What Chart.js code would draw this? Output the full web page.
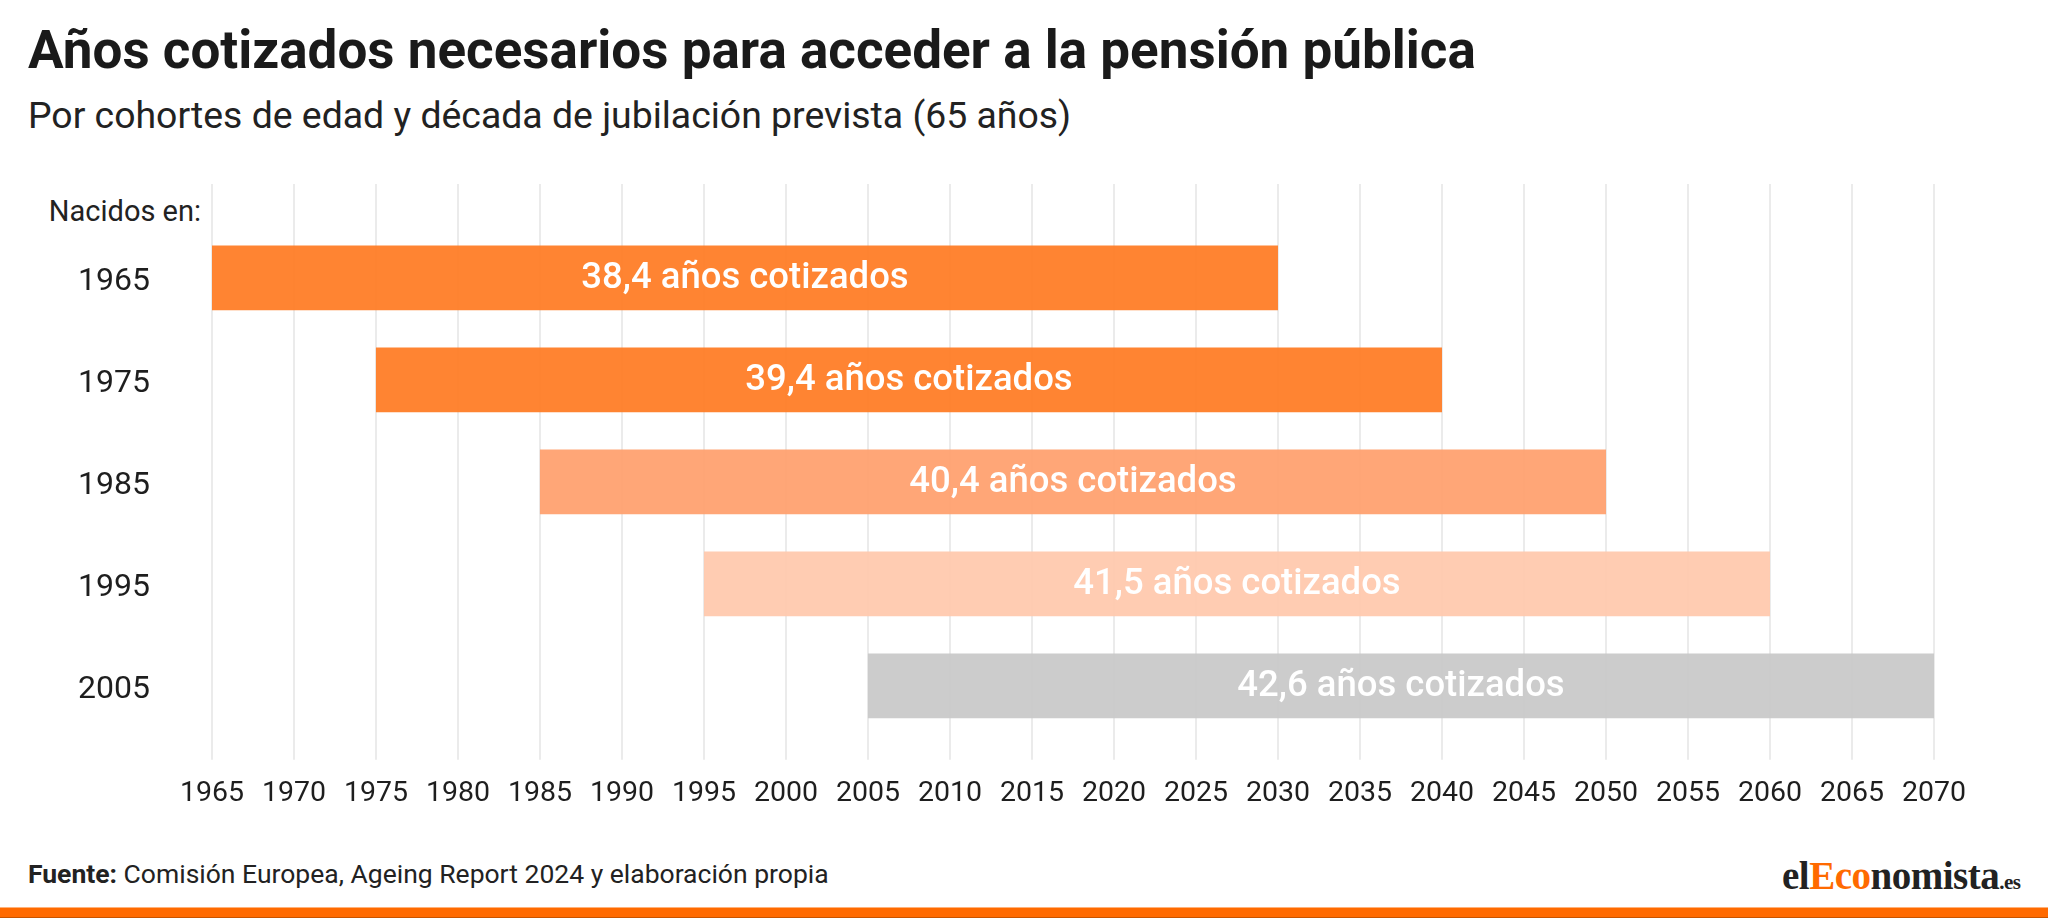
<!DOCTYPE html>
<html lang="es">
<head>
<meta charset="utf-8">
<title>Años cotizados necesarios para acceder a la pensión pública</title>
<script src="https://cdn.jsdelivr.net/npm/chart.js@4.4.1/dist/chart.umd.min.js"></script>
<style>
  html, body { margin: 0; padding: 0; background: #fff; }
  body { width: 2048px; height: 918px; position: relative; overflow: hidden; font-family: Roboto, sans-serif; color: #1c1c1c; }
  .title { position: absolute; left: 28px; top: 24px; font-size: 53px; line-height: 1; font-weight: 700; color: #1a1a1a; white-space: nowrap; }
  .subtitle { position: absolute; left: 28px; top: 97px; font-size: 37.4px; line-height: 1; color: #222; white-space: nowrap; }
  .rowhead { position: absolute; left: 0; width: 201px; top: 197px; text-align: right; font-size: 29px; line-height: 1; color: #222; }
  .chart-box { position: absolute; left: 0; top: 140px; width: 2048px; height: 700px; }
  .source { position: absolute; left: 28px; top: 861px; font-size: 26.5px; line-height: 1; color: #222; white-space: nowrap; }
  .logo { position: absolute; left: 1782px; top: 856px; font-family: "Liberation Serif", serif; font-weight: 700; font-size: 39px; line-height: 1; color: #222; white-space: nowrap; letter-spacing: -0.5px; }
  .logo .eco { color: #ff6a00; }
  .logo .es { font-size: 21px; }
  .bottom-bar { position: absolute; left: 0; bottom: 0; width: 2048px; height: 9px; background: #ff6a00; border-top: 1px solid #ffb27a; border-bottom: 1px solid #c75400; }
</style>
</head>
<body>
<div class="title">Años cotizados necesarios para acceder a la pensión pública</div>
<div class="subtitle">Por cohortes de edad y década de jubilación prevista (65 años)</div>
<div class="rowhead">Nacidos en:</div>
<div class="chart-box"><canvas id="pensionChart"></canvas></div>
<div class="source"><b>Fuente:</b> Comisión Europea, Ageing Report 2024 y elaboración propia</div>
<div class="logo">el<span class="eco">Eco</span>nomista<span class="es">.es</span></div>
<div class="bottom-bar"></div>

<script>
// Cohortes (año de nacimiento) y año previsto de jubilación a los 65
const cohorts = ['1965', '1975', '1985', '1995', '2005'];
const birthYears = [1965, 1975, 1985, 1995, 2005];
const retirementYears = [2030, 2040, 2050, 2060, 2070];
const yearsContributed = [38.4, 39.4, 40.4, 41.5, 42.6];
const axisMin = 1965;
const axisMax = 2070;

const barColors = [
    'rgba(255, 122, 33, 0.92)',
    'rgba(255, 122, 33, 0.92)',
    'rgba(255, 158, 107, 0.92)',
    'rgba(255, 200, 171, 0.92)',
    'rgba(200, 200, 200, 0.92)'
];

document.addEventListener('DOMContentLoaded', function() {
    const ctx = document.getElementById('pensionChart').getContext('2d');

    const ranges = birthYears.map((start, i) => [start, retirementYears[i]]);

    // texto blanco centrado dentro de cada barra
    const barLabels = {
        id: 'barLabels',
        afterDatasetsDraw(chart) {
            const meta = chart.getDatasetMeta(0);
            const c = chart.ctx;
            c.save();
            c.fillStyle = '#ffffff';
            c.font = '500 36.5px Roboto';
            c.textAlign = 'center';
            c.textBaseline = 'middle';
            meta.data.forEach(function(bar, i) {
                const label = String(yearsContributed[i]).replace('.', ',') + ' años cotizados';
                c.fillText(label, (bar.x + bar.base) / 2, bar.y + 1);
            });
            c.restore();
        }
    };

    new Chart(ctx, {
        type: 'bar',
        data: {
            labels: cohorts,
            datasets: [{
                data: ranges,
                backgroundColor: barColors,
                borderWidth: 0,
                barPercentage: 0.635,
                categoryPercentage: 1.0
            }]
        },
        options: {
            indexAxis: 'y',
            responsive: true,
            maintainAspectRatio: false,
            animation: false,
            layout: {
                padding: { left: 16, right: 114, top: 44, bottom: 12 }
            },
            scales: {
                x: {
                    type: 'linear',
                    position: 'bottom',
                    min: axisMin,
                    max: axisMax,
                    border: { display: false },
                    grid: { color: '#ebebeb', lineWidth: 2, drawTicks: true, tickLength: 23 },
                    ticks: {
                        stepSize: 5,
                        padding: 17,
                        color: '#1e1e1e',
                        font: { family: 'Roboto', size: 28.5 },
                        callback: value => String(value)
                    }
                },
                x2: {
                    type: 'linear',
                    position: 'top',
                    display: true,
                    min: axisMin,
                    max: axisMax,
                    border: { display: false },
                    grid: { color: '#ebebeb', lineWidth: 2, drawOnChartArea: false, drawTicks: true, tickLength: 43 },
                    ticks: { stepSize: 5, display: false }
                },
                y: {
                    border: { display: false },
                    grid: { display: false, drawTicks: false },
                    ticks: {
                        padding: 62,
                        labelOffset: 4,
                        color: '#1e1e1e',
                        font: { family: 'Roboto', size: 32 }
                    }
                }
            },
            plugins: {
                legend: { display: false },
                tooltip: { enabled: false }
            }
        },
        plugins: [barLabels]
    });
});
</script>
</body>
</html>
